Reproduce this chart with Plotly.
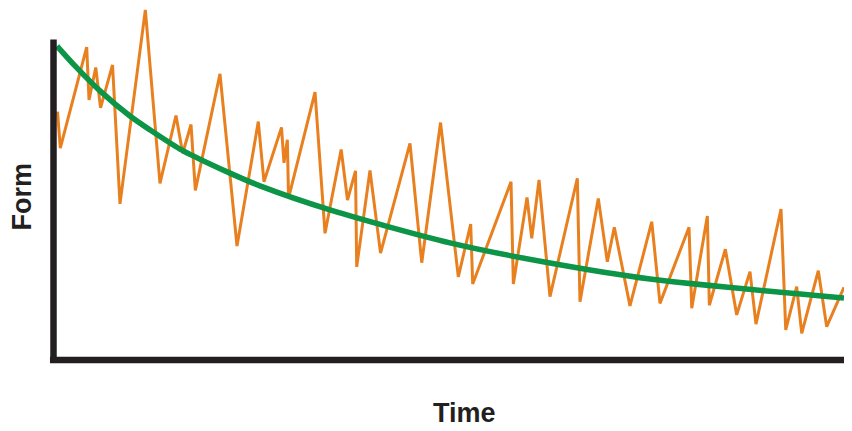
import plotly.graph_objects as go

# Orange (fluctuating form) series
time_values = [0.5, 0.85, 4.15, 4.44, 5.28, 5.88, 7.38, 8.31, 11.48, 13.31,
               15.31, 16.15, 17.19, 17.73, 20.81, 22.94, 25.6, 26.31, 28.5, 28.81,
               29.23, 29.38, 32.69, 33.94, 35.96, 36.75, 37.75, 37.9, 39.56, 40.88,
               44.56, 46.03, 48.38, 50.6, 52.15, 52.4, 57.19, 57.48, 59.19, 59.78,
               60.69, 62.06, 65.48, 65.81, 68.1, 69.23, 70.1, 72.06, 74.78, 75.81,
               79.44, 79.78, 81.73, 81.98, 83.98, 85.4, 87.06, 87.81, 90.94, 91.53,
               92.9, 93.53, 95.6, 96.65, 98.81]
form_values = [77.6, 66.2, 97.8, 81.3, 91.4, 78.8, 92.2, 48.8, 109.4, 55.2,
               76.4, 64.6, 73.6, 53.0, 89.4, 35.6, 74.5, 55.7, 72.7, 61.6,
               68.8, 50.6, 83.7, 39.6, 65.8, 50.0, 59.1, 29.1, 59.2, 33.4,
               67.7, 30.4, 74.2, 26.0, 42.5, 23.75, 55.7, 23.75, 50.8, 38.0,
               56.25, 19.8, 56.8, 18.2, 50.5, 30.7, 41.5, 16.9, 43.2, 17.7,
               41.5, 16.2, 45.0, 17.1, 34.6, 14.1, 27.6, 11.2, 47.2, 9.4,
               22.9, 8.3, 27.9, 10.4, 22.7]

# Green (trend) series
trend_time = [0.44, 2.69, 5.81, 9.56, 12.06, 15.81, 19.56, 22.06, 25.81, 34.56,
              49.56, 62.06, 74.56, 98.81]
trend_form = [98.1, 91.9, 84.1, 76.25, 71.9, 65.9, 61.25, 58.4, 54.4, 46.9,
              36.6, 30.3, 25.3, 19.4]

x_label = "Time"
y_label = "Form"

ORANGE = "#E9801F"
GREEN = "#0C9447"
AXIS = "#231F20"

# the page body has an 8px margin: the figure is drawn 8px in from the window
W, H = 844, 423

fig = go.Figure()
fig.add_trace(go.Scatter(x=time_values, y=form_values, mode="lines",
                         line=dict(color=ORANGE, width=3), hoverinfo="skip"))
fig.add_trace(go.Scatter(x=trend_time, y=trend_form, mode="lines",
                         line=dict(color=GREEN, width=5.5, shape="spline", smoothing=0.8),
                         hoverinfo="skip"))

# axis lines
fig.add_shape(type="line", xref="x", yref="y", x0=0, x1=0, y0=-0.94, y1=100.16,
              line=dict(color=AXIS, width=6.5), layer="above")
fig.add_shape(type="line", xref="x", yref="y", x0=-0.44, x1=99.9, y0=0, y1=0,
              line=dict(color=AXIS, width=6.5), layer="above")

font = dict(family="Liberation Sans, Arial, sans-serif", size=27, color="#231F20")
fig.add_annotation(text=f"<b>{y_label}</b>", xref="paper", yref="paper",
                   x=(21.5 - 8) / W, y=1 - (197 - 8) / H, xanchor="center", yanchor="middle",
                   textangle=-90, showarrow=False, font=font)
fig.add_annotation(text=f"<b>{x_label}</b>", xref="paper", yref="paper",
                   x=(465 - 8) / W, y=1 - (413 - 8) / H, xanchor="center", yanchor="middle",
                   showarrow=False, font=font)

fig.update_layout(
    width=W, height=H,
    margin=dict(l=0, r=0, t=0, b=0),
    paper_bgcolor="white", plot_bgcolor="white",
    showlegend=False,
    xaxis=dict(range=[-5.6875, 99.8125], visible=False, fixedrange=True),
    yaxis=dict(range=[-22.1875, 110.0], visible=False, fixedrange=True),
)

fig.write_html("out.html", config={"displayModeBar": False})
